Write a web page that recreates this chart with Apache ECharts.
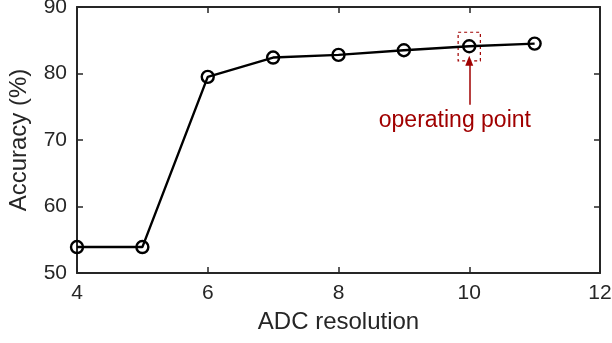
<!DOCTYPE html>
<html>
<head>
<meta charset="utf-8">
<script src="https://cdn.jsdelivr.net/npm/echarts@6/dist/echarts.min.js"></script>
<style>
  html, body { margin: 0; padding: 0; background: #fff; }
  #chart { width: 612px; height: 343px; }
</style>
</head>
<body>
<div id="chart"></div>
<script>
// ADC resolution (bits) vs accuracy
const bits = [4, 5, 6, 7, 8, 9, 10, 11]
const accuracy = [53.9, 53.9, 79.5, 82.4, 82.8, 83.5, 84.1, 84.5]
const xTicks = [4, 6, 8, 10, 12]
const yTicks = [50, 60, 70, 80, 90]

// annotation around the chosen point
const opBox = [[9.83, 86.2], [10.17, 81.9]]
const opArrow = [[10, 75.3], [10, 81.9]]
const opLabel = [9.78, 72.9]

const axisColor = '#262626'
const annoColor = '#a00000'
const font = 'Helvetica, Arial, "Liberation Sans", sans-serif'

const chart = echarts.init(document.getElementById('chart'), null, { renderer: 'canvas' })

const baseAxis = {
  axisLine: { show: true, onZero: false, lineStyle: { color: axisColor, width: 2 } },
  axisTick: { show: true, inside: true, length: 6, lineStyle: { color: axisColor, width: 1.5 } },
  splitLine: { show: false },
  axisLabel: { color: axisColor, fontSize: 21, fontFamily: font }
}

const option = {
  backgroundColor: '#ffffff',
  animation: false,
  grid: { left: 77, right: 12, top: 7, bottom: 70, containLabel: false, outerBoundsMode: 'none' },
  xAxis: [
    Object.assign({}, baseAxis, {
      type: 'value', min: xTicks[0], max: xTicks[xTicks.length - 1], interval: 2,
      name: 'ADC resolution', nameLocation: 'middle', nameGap: 37,
      nameTextStyle: { color: axisColor, fontSize: 24, fontFamily: font },
      axisLabel: Object.assign({}, baseAxis.axisLabel, { margin: 10 })
    }),
    Object.assign({}, baseAxis, {
      type: 'value', position: 'top', min: xTicks[0], max: xTicks[xTicks.length - 1], interval: 2,
      axisLabel: { show: false }
    })
  ],
  yAxis: [
    Object.assign({}, baseAxis, {
      type: 'value', min: yTicks[0], max: yTicks[yTicks.length - 1], interval: 10,
      name: 'Accuracy (%)', nameLocation: 'middle', nameGap: 46,
      nameTextStyle: { color: axisColor, fontSize: 24, fontFamily: font },
      axisLabel: Object.assign({}, baseAxis.axisLabel, { margin: 10, padding: [4, 0, 0, 0] })
    }),
    Object.assign({}, baseAxis, {
      type: 'value', position: 'right', min: yTicks[0], max: yTicks[yTicks.length - 1], interval: 10,
      axisLabel: { show: false }
    })
  ],
  series: [
    {
      type: 'line',
      data: bits.map((b, i) => [b, accuracy[i]]),
      symbol: 'circle',
      symbolSize: 12,
      showAllSymbol: true,
      lineStyle: { color: '#000', width: 2.4 },
      itemStyle: { color: 'rgba(0,0,0,0)', borderColor: '#000', borderWidth: 2.4 },
      z: 3,
      markArea: {
        silent: true,
        itemStyle: { color: 'rgba(0,0,0,0)', borderColor: annoColor, borderWidth: 1.2, borderType: [3, 3] },
        data: [[{ coord: opBox[0] }, { coord: opBox[1] }]]
      },
      markLine: {
        silent: true,
        symbol: ['none', 'triangle'],
        symbolSize: [8, 10],
        label: { show: false },
        lineStyle: { color: annoColor, width: 1.5, type: 'solid' },
        data: [[{ coord: opArrow[0] }, { coord: opArrow[1] }]]
      },
      markPoint: {
        silent: true,
        symbol: 'circle',
        symbolSize: 0,
        label: {
          show: true, position: 'inside', formatter: 'operating point',
          color: annoColor, fontSize: 23, fontFamily: font
        },
        data: [{ coord: opLabel }]
      }
    }
  ]
}

chart.setOption(option)
</script>
</body>
</html>
